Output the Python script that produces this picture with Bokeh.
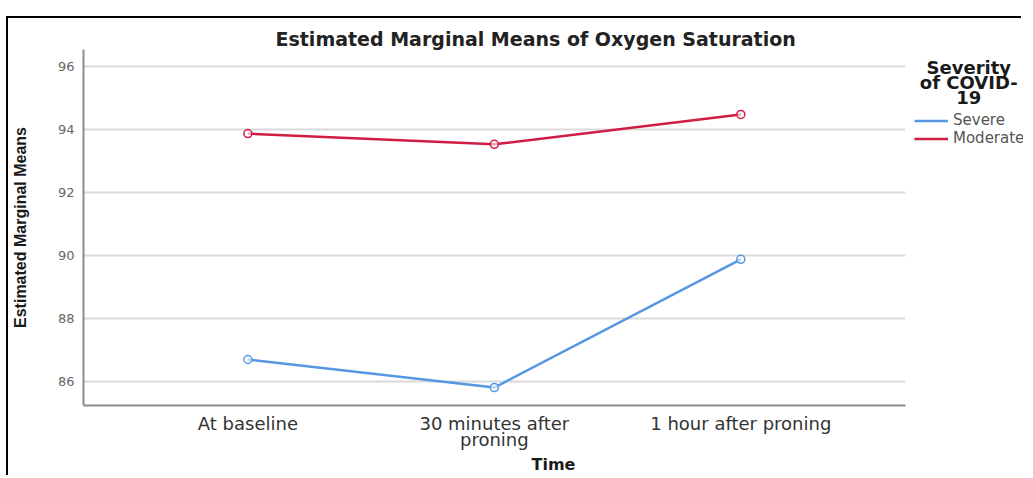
from bokeh.plotting import figure
from bokeh.models import Range1d, Legend, LegendItem, FixedTicker, Label, BoxAnnotation
from bokeh.embed import file_html
from bokeh.resources import INLINE

# ---- data ----
times = ["At baseline", "30 minutes after\nproning", "1 hour after proning"]
severe = [86.70, 85.81, 89.88]
moderate = [93.87, 93.53, 94.48]
y_ticks = [86, 88, 90, 92, 94, 96]
legend_title_lines = ["Severity", "of COVID-", "19"]
series_names = ["Severe", "Moderate"]

BLUE = "#5796e3"
RED = "#d21d43"
WIDE = "DejaVu Sans"
ARIAL = "Liberation Sans"

xpos = list(range(len(times)))
X_AXIS_END = 2.667

p = figure(
    width=1015, height=459,
    x_range=Range1d(-0.667, 3.147),
    y_range=Range1d(85.24, 96.54),
    output_backend="svg", toolbar_location=None,
    min_border_left=71, min_border_right=0, min_border_top=31, min_border_bottom=72,
)
p.margin = (18, 0, 0, 8)
p.styles = {"box-shadow": "-2px -2px 0 0 #000000"}

p.title.text = "Estimated Marginal Means of Oxygen Saturation"
p.title.align = "left"
p.title.offset = 192
p.title.text_font = WIDE
p.title.text_font_size = "19px"
p.title.text_font_style = "bold"
p.title.text_color = "#222222"
p.title.standoff = 0

p.outline_line_color = None
p.xgrid.grid_line_color = None
p.ygrid.grid_line_color = "#dadada"
p.ygrid.grid_line_width = 2
p.yaxis.ticker = FixedTicker(ticks=y_ticks)
p.xaxis.ticker = FixedTicker(ticks=xpos)
p.xaxis.major_label_overrides = {i: t for i, t in zip(xpos, times)}
p.xaxis.bounds = (-0.667, X_AXIS_END)

for ax in (p.xaxis[0], p.yaxis[0]):
    ax.axis_line_color = "#8c8c8c"
    ax.axis_line_width = 2
    ax.major_tick_line_color = None
    ax.major_tick_out = 0
    ax.major_tick_in = 0
    ax.minor_tick_line_color = None
    ax.minor_tick_out = 0
    ax.minor_tick_in = 0
    ax.major_label_text_font = WIDE
    ax.axis_label_text_font_style = "bold"
    ax.axis_label_text_color = "#1a1a1a"

p.yaxis.major_label_text_font_size = "13px"
p.yaxis.major_label_text_color = "#666666"
p.yaxis.major_label_standoff = 9
p.yaxis.axis_label = "Estimated Marginal Means"
p.yaxis.axis_label_text_font = ARIAL
p.yaxis.axis_label_text_font_size = "16px"
p.yaxis.axis_label_standoff = 26

p.xaxis.major_label_text_font_size = "18px"
p.xaxis.major_label_text_color = "#333333"
p.xaxis.major_label_text_line_height = 0.8
p.xaxis.major_label_standoff = 7
p.xaxis.axis_label = "Time"
p.xaxis.axis_label_text_font = WIDE
p.xaxis.axis_label_text_font_size = "16px"
p.xaxis.axis_label_standoff = 2

# blank out the grid to the right of the plotting area (legend zone)
p.add_layout(BoxAnnotation(left=X_AXIS_END, fill_color="white", fill_alpha=1,
                           line_color=None, level="underlay"))

r_sev = p.line(xpos, severe, line_color=BLUE, line_width=2.5)
p.scatter(xpos, severe, size=8, line_color=BLUE, fill_color="white", fill_alpha=0.6, line_width=1.5)
r_mod = p.line(xpos, moderate, line_color=RED, line_width=2.5)
p.scatter(xpos, moderate, size=8, line_color=RED, fill_color="white", fill_alpha=0.6, line_width=1.5)

legend = Legend(
    items=[LegendItem(label=series_names[0], renderers=[r_sev]),
           LegendItem(label=series_names[1], renderers=[r_mod])],
    location=(831, 258), margin=0, padding=0, spacing=0,
    glyph_width=34, glyph_height=15, label_height=15, label_standoff=5,
    label_text_font=WIDE, label_text_font_size="15px", label_text_line_height=0.85,
    label_text_color="#555555",
    border_line_color=None, background_fill_alpha=0,
)
p.add_layout(legend, "center")

for t, yy in zip(legend_title_lines, [95.97, 95.49, 95.02]):
    p.add_layout(Label(x=2.925, y=yy, text=t, text_align="center", text_baseline="middle",
                       text_font=WIDE, text_font_size="18px", text_font_style="bold",
                       text_color="#1a1a1a"))

open("out.html", "w").write(file_html(p, INLINE))
